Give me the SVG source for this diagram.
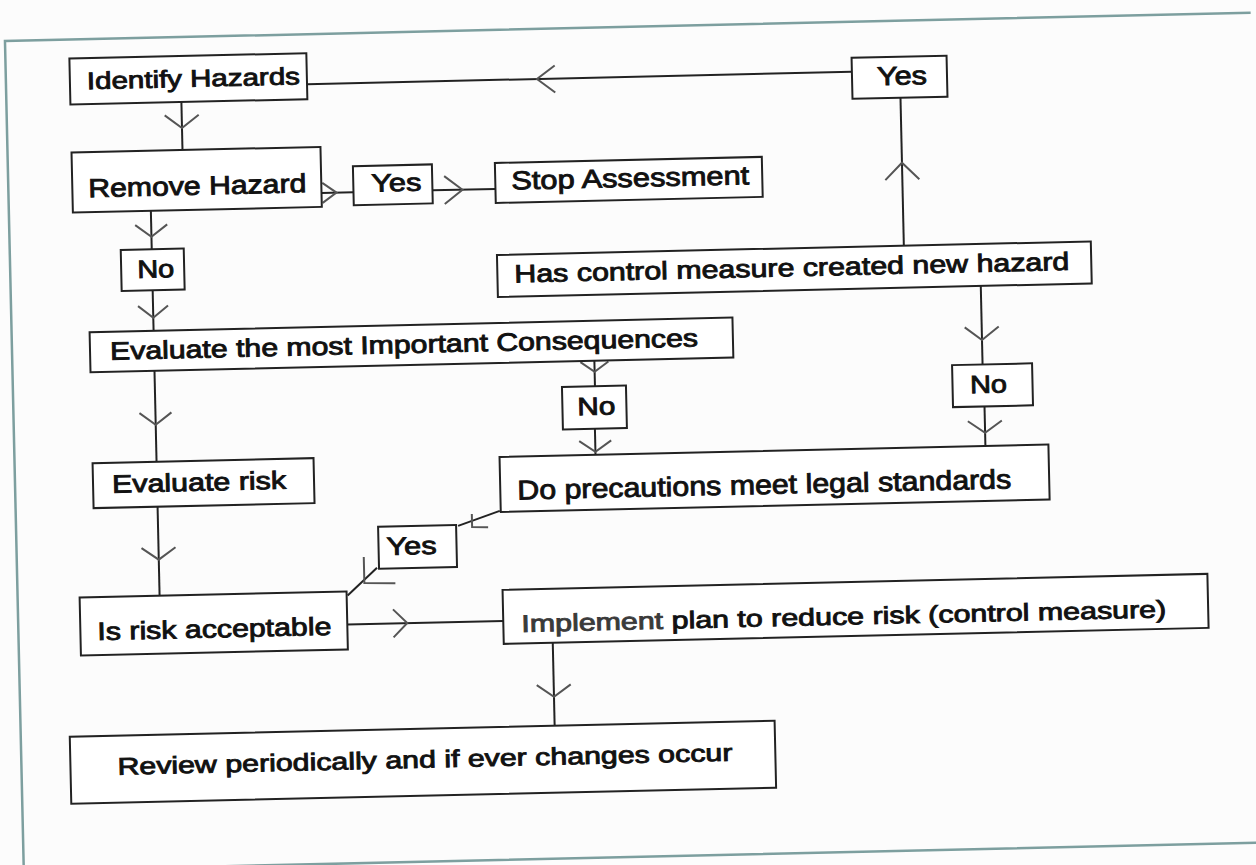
<svg xmlns="http://www.w3.org/2000/svg" width="1256" height="865" viewBox="0 0 1256 865">
<style>
.box{fill:#fff;stroke:#222;stroke-width:2}
.t{font-family:"Liberation Sans",Arial,sans-serif;fill:#111;stroke:#111;stroke-width:0.9}
.ln{fill:none;stroke:#222;stroke-width:2}
.ah{fill:none;stroke:#555;stroke-width:2}
.frame{fill:none;stroke:#7d9f9f;stroke-width:2.5}
</style>
<rect width="1256" height="865" fill="#fcfcfc"/>
<g transform="rotate(-1.3 628 432)">
<path class="frame" d="M1260,27 H14 V857 H1300"/>
<g id="connectors">
<line class="ln" x1="189" y1="92" x2="189" y2="140"/><polyline class="ah" points="172,105 189,118 206,105"/>
<line class="ln" x1="327" y1="186" x2="359" y2="186"/><polyline class="ah" points="328,176 342,186 328,196"/>
<line class="ln" x1="438" y1="186" x2="501" y2="186"/><polyline class="ah" points="450,172 468,186 450,200"/>
<line class="ln" x1="156" y1="200" x2="156" y2="238.5"/><polyline class="ah" points="140,214 156,226 172,214"/>
<line class="ln" x1="156" y1="280" x2="156" y2="320"/><polyline class="ah" points="141,295 156,307 171,295"/>
<line class="ln" x1="156" y1="360" x2="156" y2="451"/><polyline class="ah" points="140,402 156,414 172,402"/>
<line class="ln" x1="156" y1="496" x2="156" y2="585"/><polyline class="ah" points="139,537 156,549 173,537"/>
<line class="ln" x1="596" y1="360" x2="596" y2="385.5"/><polyline class="ah" points="582,361 596,371 610,361"/>
<line class="ln" x1="595" y1="428" x2="595" y2="454"/><polyline class="ah" points="579,440 595,451 611,440"/>
<line class="ln" x1="984" y1="294" x2="984" y2="372.5"/><polyline class="ah" points="967,335 984,348 1001,335"/>
<line class="ln" x1="985" y1="414" x2="985" y2="454"/><polyline class="ah" points="968,429 985,441 1002,429"/>
<line class="ln" x1="908" y1="252" x2="908" y2="104"/><polyline class="ah" points="891,186 908,169 925,186"/>
<line class="ln" x1="315" y1="77" x2="860" y2="77"/><polyline class="ah" points="563,64 545,77 563,91"/>
<line class="ln" x1="498" y1="508" x2="456" y2="522"/><polyline class="ah" points="470,510.5 470,523.5 486,524"/>
<line class="ln" x1="374" y1="562" x2="344" y2="589"/><polyline class="ah" points="361,551 361,577 392,578"/>
<line class="ln" x1="343" y1="618" x2="499" y2="618"/><polyline class="ah" points="389,604 403,618 389,632"/>
<line class="ln" x1="548" y1="641" x2="548" y2="724"/><polyline class="ah" points="531,683 548,695 565,683"/>
</g>
<g id="identify-hazards"><rect class="box" x="78" y="46" width="237" height="46"/><text class="t" x="95" y="77" font-size="24" textLength="213" lengthAdjust="spacingAndGlyphs">Identify Hazards</text></g>
<g id="remove-hazard"><rect class="box" x="78" y="140" width="249" height="60"/><text class="t" x="94" y="185" font-size="26" textLength="218" lengthAdjust="spacingAndGlyphs">Remove Hazard</text></g>
<g id="yes-remove"><rect class="box" x="359" y="160" width="79" height="39"/><text class="t" x="377" y="186" font-size="25" textLength="50" lengthAdjust="spacingAndGlyphs">Yes</text></g>
<g id="stop-assessment"><rect class="box" x="501" y="160" width="267" height="40"/><text class="t" x="517" y="187" font-size="26" textLength="238" lengthAdjust="spacingAndGlyphs">Stop Assessment</text></g>
<g id="yes-new-hazard"><rect class="box" x="860" y="63" width="95" height="41"/><text class="t" x="885" y="91" font-size="26" textLength="50" lengthAdjust="spacingAndGlyphs">Yes</text></g>
<g id="new-hazard"><rect class="box" x="501" y="252" width="594" height="42"/><text class="t" x="518" y="280" font-size="25" textLength="555" lengthAdjust="spacingAndGlyphs">Has control measure created new hazard</text></g>
<g id="no-remove"><rect class="box" x="125" y="238.5" width="63" height="41"/><text class="t" x="141" y="267" font-size="25" textLength="37" lengthAdjust="spacingAndGlyphs">No</text></g>
<g id="evaluate-consequences"><rect class="box" x="92" y="320" width="643" height="40"/><text class="t" x="112" y="348" font-size="25" textLength="588" lengthAdjust="spacingAndGlyphs">Evaluate the most Important Consequences</text></g>
<g id="no-consequences"><rect class="box" x="563" y="385.5" width="64" height="42.5"/><text class="t" x="578" y="414" font-size="25" textLength="38" lengthAdjust="spacingAndGlyphs">No</text></g>
<g id="no-new-hazard"><rect class="box" x="953.5" y="372.5" width="80" height="42"/><text class="t" x="971" y="401" font-size="25" textLength="37" lengthAdjust="spacingAndGlyphs">No</text></g>
<g id="evaluate-risk"><rect class="box" x="92" y="451" width="221" height="45"/><text class="t" x="111" y="481" font-size="25" textLength="174" lengthAdjust="spacingAndGlyphs">Evaluate risk</text></g>
<g id="legal-standards"><rect class="box" x="499" y="454" width="549" height="55"/><text class="t" x="516" y="497" font-size="27" textLength="494" lengthAdjust="spacingAndGlyphs">Do precautions meet legal standards</text></g>
<g id="yes-legal"><rect class="box" x="376" y="521" width="78" height="42"/><text class="t" x="384" y="549.5" font-size="25" textLength="50" lengthAdjust="spacingAndGlyphs">Yes</text></g>
<g id="risk-acceptable"><rect class="box" x="76" y="585" width="267" height="58"/><text class="t" x="93" y="628" font-size="25" textLength="234" lengthAdjust="spacingAndGlyphs">Is risk acceptable</text></g>
<g id="implement-plan"><rect class="box" x="499" y="587" width="705" height="54"/><text class="t" x="517" y="629.5" font-size="24" textLength="645" lengthAdjust="spacingAndGlyphs"><tspan fill="#3a3a3a" stroke="#3a3a3a">Implement</tspan> plan to reduce risk (control measure)</text></g>
<g id="review"><rect class="box" x="63" y="724" width="705" height="67"/><text class="t" x="110" y="763" font-size="24" textLength="615" lengthAdjust="spacingAndGlyphs">Review periodically and if ever changes occur</text></g>
</g>
</svg>
